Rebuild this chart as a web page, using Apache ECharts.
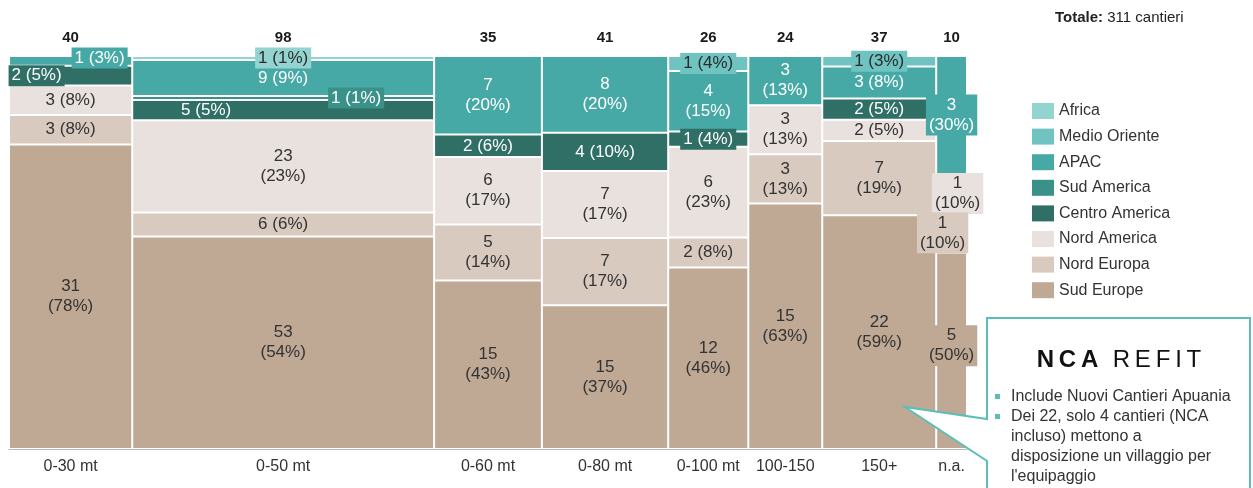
<!DOCTYPE html>
<html>
<head>
<meta charset="utf-8">
<script src="https://cdn.jsdelivr.net/npm/echarts@6/dist/echarts.min.js"></script>
<style>
  html, body { margin: 0; padding: 0; background: #fff; }
  #chart { width: 1253px; height: 488px; }
</style>
</head>
<body>
<div id="chart"></div>
<script>
// Cantieri per fascia di lunghezza e area geografica
const categories = ['0-30 mt', '0-50 mt', '0-60 mt', '0-80 mt', '0-100 mt', '100-150', '150+', 'n.a.'];
const regions = ['Africa', 'Medio Oriente', 'APAC', 'Sud America', 'Centro America', 'Nord America', 'Nord Europa', 'Sud Europe'];

const africa        = [0, 1, 0, 0, 0, 0, 0, 0];
const medioOriente  = [0, 0, 0, 0, 1, 0, 1, 0];
const apac          = [1, 9, 7, 8, 4, 3, 3, 3];
const sudAmerica    = [0, 1, 0, 0, 0, 0, 0, 0];
const centroAmerica = [2, 5, 2, 4, 1, 0, 2, 0];
const nordAmerica   = [3, 23, 6, 7, 6, 3, 2, 1];
const nordEuropa    = [3, 6, 5, 7, 2, 3, 7, 1];
const sudEurope     = [31, 53, 15, 15, 12, 15, 22, 5];

const noteTitleBold = 'NCA';
const noteTitleRest = 'REFIT';
const noteBullets = [
  ['Include Nuovi Cantieri Apuania'],
  ['Dei 22, solo 4 cantieri (NCA', 'incluso) mettono a', 'disposizione un villaggio per', "l'equipaggio"]
];

// ---- styling ----
const regionColors = ['#93d4d1', '#6fc4c1', '#47a9a6', '#3a9189', '#2f6f66', '#e9e1dd', '#d9cac0', '#bfa995'];
const labelColors  = ['#2b2b2b', '#2b2b2b', '#ffffff', '#ffffff', '#ffffff', '#333333', '#333333', '#333333'];
const FONT = '"Liberation Sans", Arial, Helvetica, sans-serif';
const accent = '#5cbeb9';

// label nudges for thin segments: key = column-region
const labelNudge = {
  '0-2': { dx: 29, dy: -3 },
  '0-4': { dx: -34 },
  '1-3': { dx: 73 },
  '1-4': { dx: -77 },
  '7-5': { dx: 6 },
  '7-6': { dx: -9 },
  '7-7': { dy: -5 }
};

// ---- build marimekko geometry from the counts ----
const values = [africa, medioOriente, apac, sudAmerica, centroAmerica, nordAmerica, nordEuropa, sudEurope];
const colTotals = categories.map((_, c) => values.reduce((s, arr) => s + arr[c], 0));
const grandTotal = colTotals.reduce((a, b) => a + b, 0);
const colStart = [];
colTotals.reduce((acc, t) => { colStart.push(acc); return acc + t; }, 0);

const stackBase = categories.map(() => 0);
const segData = regions.map(() => []);
for (let r = regions.length - 1; r >= 0; r--) {
  categories.forEach((_, c) => {
    const v = values[r][c];
    if (!v) return;
    const y0 = stackBase[c] * 100 / colTotals[c];
    stackBase[c] += v;
    const y1 = stackBase[c] * 100 / colTotals[c];
    segData[r].push([colStart[c], colStart[c] + colTotals[c], y0, y1, v, Math.round(v * 100 / colTotals[c]), c]);
  });
}

function segmentRenderer(r) {
  return function (params, api) {
    const x0 = api.value(0), x1 = api.value(1), y0 = api.value(2), y1 = api.value(3);
    const tl = api.coord([x0, y1]);
    const br = api.coord([x1, y0]);
    const w = br[0] - tl[0], h = br[1] - tl[1];
    const count = api.value(4), pct = api.value(5), col = api.value(6);
    const twoLine = w < 60 || h >= 45;
    const boxed = h < 20 || w < 60;
    const nudge = labelNudge[col + '-' + r] || {};
    return {
      type: 'group',
      children: [
        {
          type: 'rect',
          shape: { x: tl[0] + 1, y: tl[1] + 1, width: w - 2, height: Math.max(h - 2, 1) },
          style: { fill: regionColors[r] }
        },
        {
          type: 'text',
          z2: 100,
          x: (tl[0] + br[0]) / 2 + (nudge.dx || 0),
          y: (tl[1] + br[1]) / 2 + (nudge.dy || 0),
          style: {
            text: twoLine ? count + '\n(' + pct + '%)' : count + ' (' + pct + '%)',
            fill: labelColors[r],
            fontSize: 17,
            fontFamily: FONT,
            align: 'center',
            verticalAlign: 'middle',
            lineHeight: 20,
            backgroundColor: boxed ? regionColors[r] : null,
            padding: boxed ? [1, 3, 0, 3] : 0
          }
        }
      ]
    };
  };
}

const colData = categories.map((name, i) => [colStart[i] + colTotals[i] / 2, colTotals[i], i]);

const series = regions.map((name, r) => ({
  name: name,
  type: 'custom',
  renderItem: segmentRenderer(r),
  itemStyle: { color: regionColors[r] },
  data: segData[r],
  encode: { x: [0, 1], y: [2, 3] },
  silent: true
}));

series.push({
  name: 'colonne',
  type: 'custom',
  silent: true,
  data: colData,
  encode: { x: 0 },
  renderItem: function (params, api) {
    const xm = api.value(0);
    const top = api.coord([xm, 100]);
    const bot = api.coord([xm, 0]);
    return {
      type: 'group',
      children: [
        {
          type: 'text', x: top[0], y: top[1] - 18,
          style: { text: String(api.value(1)), fill: '#1a1a1a', fontSize: 15, fontWeight: 'bold', fontFamily: FONT, align: 'center', verticalAlign: 'middle' }
        },
        {
          type: 'text', x: bot[0], y: bot[1] + 18,
          style: { text: categories[api.value(2)], fill: '#333', fontSize: 16, fontFamily: FONT, align: 'center', verticalAlign: 'middle' }
        }
      ]
    };
  }
});

// callout box with its pointer
const bulletGraphics = [];
let lineY = 397;
noteBullets.forEach(lines => {
  bulletGraphics.push({
    type: 'rect', z: 101, shape: { x: 995, y: lineY - 3, width: 5, height: 5 }, style: { fill: accent }
  });
  lines.forEach(t => {
    bulletGraphics.push({
      type: 'text', z: 101, x: 1011, y: lineY,
      style: { text: t, fill: '#333', fontSize: 16, fontFamily: FONT, verticalAlign: 'middle' }
    });
    lineY += 20;
  });
});

const spaced = s => s.split('').join('\u2009');

const option = {
  animation: false,
  backgroundColor: '#ffffff',
  grid: { left: 9, right: 286, top: 56, bottom: 39 },
  xAxis: {
    type: 'value', min: 0, max: grandTotal,
    axisLine: { show: true, lineStyle: { color: '#b8b8b8', width: 1 } },
    axisTick: { show: false }, axisLabel: { show: false }, splitLine: { show: false }
  },
  yAxis: {
    type: 'value', min: 0, max: 100, show: false
  },
  legend: {
    data: regions,
    orient: 'vertical',
    left: 1027,
    top: 98,
    itemWidth: 22,
    itemHeight: 16,
    itemGap: 9.6,
    icon: 'rect',
    selectedMode: false,
    textStyle: { fontSize: 16, color: '#333', fontFamily: FONT }
  },
  series: series,
  graphic: [
    {
      type: 'text', left: 1055, top: 10, z: 100,
      style: {
        text: '{b|Totale:} ' + grandTotal + ' cantieri',
        fontSize: 15, fill: '#222', fontFamily: FONT,
        rich: { b: { fontWeight: 'bold', fontSize: 15, fontFamily: FONT, fill: '#222' } }
      }
    },
    {
      type: 'polygon', z: 100,
      shape: { points: [[987, 318], [1250, 318], [1250, 495], [987, 495], [987, 461], [905, 407], [987, 419]] },
      style: { fill: '#ffffff', stroke: accent, lineWidth: 2 }
    },
    {
      type: 'text', z: 101, x: 1119, y: 360,
      style: {
        text: '{b|' + spaced(noteTitleBold) + '}\u2009\u2009\u2009{r|' + spaced(noteTitleRest) + '}',
        fontSize: 24, fontFamily: FONT, fill: '#111', align: 'center', verticalAlign: 'middle',
        rich: {
          b: { fontWeight: 'bold', fontSize: 24, fontFamily: FONT, fill: '#111' },
          r: { fontWeight: 'normal', fontSize: 24, fontFamily: FONT, fill: '#111' }
        }
      }
    }
  ].concat(bulletGraphics)
};

const chart = echarts.init(document.getElementById('chart'), null, { renderer: 'canvas' });
chart.setOption(option);
</script>
</body>
</html>
